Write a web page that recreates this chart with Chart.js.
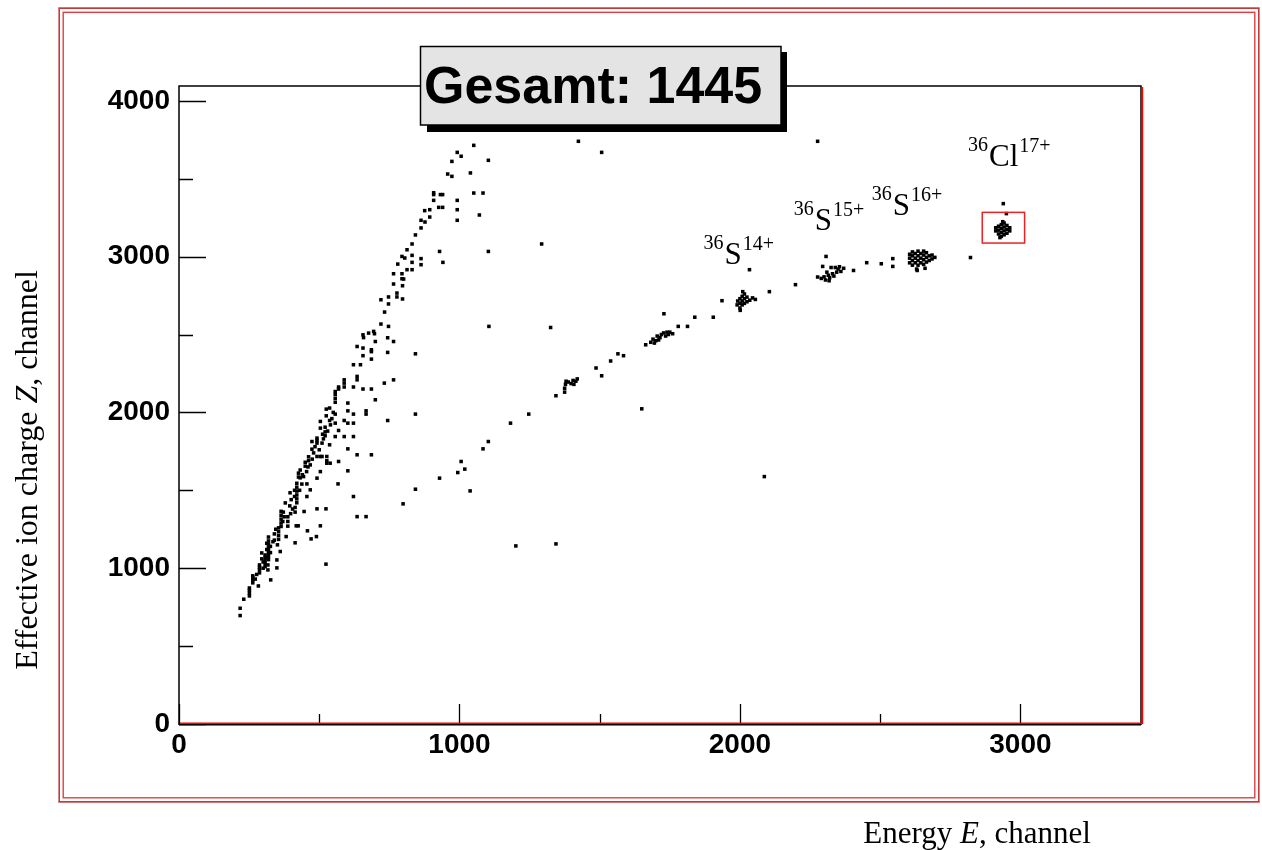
<!DOCTYPE html>
<html><head><meta charset="utf-8">
<script src="https://cdn.jsdelivr.net/npm/chart.js@4.4.1/dist/chart.umd.min.js"></script>
<style>html,body{margin:0;padding:0;background:#fff;overflow:hidden}canvas{display:block}</style>
</head><body>
<canvas id="c" width="1262" height="850"></canvas>
<script>
// ---- tick values ----
const xTicks = [0, 1000, 2000, 3000];
const xMinorTicks = [500, 1500, 2500];
const yTicks = [0, 1000, 2000, 3000, 4000];
const yMinorTicks = [500, 1500, 2500, 3500];
const xMax = 3430;
const yMax = 4095;
const totalCount = 1445;

// ---- events [E, Z] ----
const leftBranch = [
[218,696],[218,743],[231,801],[251,822],[251,840],[251,858],[251,873],[263,906],[263,925],[263,940],[263,951],[283,886],
[287,970],[287,990],[287,1005],[287,1021],[295,1098],[307,1010],[307,1030],[307,1050],[307,1068],[307,1085],[313,1070],
[313,1120],[313,1160],[319,1055],[319,1075],[319,1095],[319,1115],[319,1135],[319,1155],[319,1175],[319,1200],[317,989],
[317,1021],[327,925],[349,1002],[349,1053],[351,1150],[361,1107],[355,1185],[355,1210],[355,1235],[355,1259],[364,1268],
[364,1290],[364,1315],[364,1340],[364,1365],[382,1203],[388,1270],[388,1300],[388,1330],[379,1419],[396,1484],[414,1163],
[418,1272],[425,1272],[414,1360],[414,1390],[412,1460],[412,1500],[420,1420],[420,1445],[420,1470],[420,1495],[420,1520],
[420,1545],[426,1585],[426,1610],[432,1630],[432,1580],[444,1588],[446,1364],[450,1655],[450,1680],[458,1240],[456,1460],
[456,1541],[462,1690],[462,1715],[468,1503],[468,1663],[471,1188],[474,1764],[474,1813],[490,1203],[492,1381],[492,1578],
[492,1717],[492,1803],[492,1820],[492,1835],[504,1272],[504,1620],[504,1717],[504,1899],[504,1942],[510,1717],[510,1803],
[521,1850],[521,1875],[521,1905],[524,1026],[524,1381],[527,1674],[527,1690],[527,1717],[525,1978],[525,2021],[537,1792],
[537,1948],[537,2028],[539,1674],[557,1845],[557,1931],[557,1989],[557,2065],[557,2090],[557,2115],[557,2134],[567,1541],
[569,1685],[569,1884],[569,2150],[569,2163],[589,1845],[589,1948],[589,2163],[589,2188],[589,2209],[602,1625],[602,1766],
[602,1931],[602,2010],[602,2060],[622,1460],[622,1845],[622,1931],[622,1989],[622,2163],[622,2306],[635,1331],[635,1728],
[635,2209],[635,2231],[635,2423],[647,2306],[656,2150],[656,2364],[656,2413],[656,2498],[658,2480],[667,1331],[667,1989],
[667,2010],[676,2509],[686,1728],[686,2150],[686,2342],[686,2390],[686,2402],[694,2520],[697,2505],[700,2081],[700,2455],
[720,2567],[720,2723],[732,2188],[733,2644],[744,1948],[744,2385],[744,2479],[747,2552],[747,2696],[747,2741],[765,2209],
[765,2455],[765,2824],[765,2890],[777,2741],[777,2766],[780,2952],[795,2858],[795,2890],[795,3001],[797,2728],[797,2813],
[801,2856],[805,2991],[813,2916],[813,3044],[831,2916],[831,2963],[831,3008],[831,3081],[843,3139],[863,2948],[863,2987],
[863,3184],[863,3233],[876,3295],[877,3222],[894,3254],[894,3301],[908,3361],[908,3398],[908,3410],[926,3316],[940,3316],
[932,3398],[940,3398],[958,3530],[973,3515],[973,3611],[992,3669],[1006,3644],[1051,3714],
[300,1000],[300,1040],[326,1100],[326,1140],[340,1180],[340,1220],[370,1300],[375,1330],[395,1400],[400,1440],[405,1380],
[430,1500],[438,1540],[440,1600],[455,1620],[460,1650],[475,1700],[480,1740],[485,1780],[500,1760],[512,1860],[515,1830],
[530,1880],[540,1920],[545,1960],[550,2000],[272,930],[277,960],[295,1060],[335,1170],[345,1250],[372,1360],[398,1350]
];
const strayEvents = [
[843,1989],[843,2376],[941,2963],[929,3033],[992,3233],[992,3301],[992,3361],[1039,3537],[1051,3408],[1084,3408],
[1071,3267],[1103,3618],[1103,3033],[1105,2552],[1424,3740],[1507,3669],[1293,3081],[1325,2545],[2277,3740],
[1650,2023],[2087,1588],[1201,1143],[1344,1156]
];
const rightBranch = [
[799,1413],[843,1507],[929,1578],[994,1614],[1006,1685],[1019,1636],[1038,1496],[1084,1766],[1103,1813],[1182,1931],
[1247,1989],[1344,2107],[1487,2285],[1507,2235],[1539,2330],[1565,2376],[1585,2364],[1664,2434],[1729,2633],[1780,2552],
[1813,2552],[1839,2611],[1905,2611],[1936,2717],[2034,2916],[2105,2775],[2198,2820],[2277,2869],[2307,3001],[2405,2911],
[2452,2961],[2504,2954],[2545,2937],[2545,2987],[2632,2911],[2822,2994],[2939,3340],[2950,3276]
];
const cluster1400 = [[1375,2130],[1375,2155],[1378,2180],[1380,2200],[1398,2185],[1405,2205],[1415,2200],[1420,2215],[1408,2180],[1388,2195]];
const cluster1700 = [[1682,2450],[1690,2470],[1700,2460],[1705,2490],[1715,2480],[1720,2500],[1728,2510],[1735,2490],[1745,2500],[1750,2515],[1760,2505],[1695,2445],[1710,2465],[1740,2515]];
const clusterS14 = [[1990,2690],[1992,2715],[2000,2670],[2000,2700],[2000,2730],[2008,2690],[2008,2715],[2008,2745],[2016,2700],[2016,2730],[2016,2760],[2025,2710],[2025,2740],[2035,2720],[2045,2735],[2055,2725],[2010,2775],[2001,2655]];
const clusterS15 = [[2290,2860],[2300,2870],[2305,2850],[2315,2880],[2320,2865],[2330,2890],[2335,2875],[2345,2900],[2350,2920],[2360,2905],[2370,2925],[2310,2900],[2325,2930],[2340,2930],[2295,2937],[2318,2845],[2355,2935]];
const clusterS16 = [[2605,2960],[2605,2990],[2605,3015],[2615,2945],[2615,2975],[2615,3005],[2615,3030],[2625,2960],[2625,2990],[2625,3020],[2635,2945],[2635,2975],[2635,3005],[2635,3035],[2645,2960],[2645,2990],[2645,3020],[2655,2950],[2655,2980],[2655,3010],[2655,3035],[2665,2965],[2665,2995],[2665,3025],[2675,2975],[2675,3005],[2685,2985],[2685,3010],[2695,2995],[2630,2920],[2660,2925]];
const clusterCl = [[2912,3165],[2912,3185],[2922,3145],[2922,3170],[2922,3195],[2932,3130],[2932,3155],[2932,3180],[2932,3205],[2942,3140],[2942,3165],[2942,3190],[2942,3215],[2952,3150],[2952,3175],[2952,3200],[2962,3165],[2962,3185],[2927,3122],[2937,3224]];

// ---- ion annotations ----
const ionMass = ['36','36','36','36'];
const ionElement = ['S','S','S','Cl'];
const ionCharge = ['14+','15+','16+','17+'];
const ionAnchorE = [1870, 2192, 2470, 2813];
const ionAnchorZ = [2954, 3173, 3269, 3579];
const selectionBox = {eMin: 2864, eMax: 3015, zMin: 3087, zMax: 3284};

const toPts = a => a.map(p => ({x: p[0], y: p[1]}));
const mk = (label, arr) => ({label, data: toPts(arr), pointStyle: 'rect', pointRadius: 2.5, pointHoverRadius: 2.5,
  pointBorderWidth: 0, borderWidth: 0, backgroundColor: '#000', borderColor: '#000', showLine: false});

const decor = {
  id: 'decor',
  afterDatasetsDraw(chart) {
    const c = chart.ctx, a = chart.chartArea, xs = chart.scales.x, ys = chart.scales.y;
    c.save();
    c.strokeStyle = '#ee2222'; c.lineWidth = 1.5;
    const bx1 = xs.getPixelForValue(selectionBox.eMin), bx2 = xs.getPixelForValue(selectionBox.eMax);
    const by1 = ys.getPixelForValue(selectionBox.zMax), by2 = ys.getPixelForValue(selectionBox.zMin);
    c.strokeRect(bx1, by1, bx2 - bx1, by2 - by1);
    c.strokeStyle = '#000'; c.lineWidth = 1.3;
    c.beginPath();
    yTicks.forEach(v => { const p = Math.round(ys.getPixelForValue(v)) + 0.5; c.moveTo(a.left, p); c.lineTo(a.left + 27, p); });
    yMinorTicks.forEach(v => { const p = Math.round(ys.getPixelForValue(v)) + 0.5; c.moveTo(a.left, p); c.lineTo(a.left + 14, p); });
    xTicks.forEach(v => { const p = Math.round(xs.getPixelForValue(v)) + 0.5; c.moveTo(p, a.bottom); c.lineTo(p, a.bottom - 20); });
    xMinorTicks.forEach(v => { const p = Math.round(xs.getPixelForValue(v)) + 0.5; c.moveTo(p, a.bottom); c.lineTo(p, a.bottom - 10); });
    c.stroke();
    c.lineWidth = 1.5;
    c.beginPath();
    c.moveTo(a.left, a.bottom + 1); c.lineTo(a.left, a.top); c.lineTo(a.right, a.top); c.lineTo(a.right, a.bottom + 1);
    c.moveTo(a.left, a.bottom + 0.8); c.lineTo(a.right, a.bottom + 0.8);
    c.stroke();
    c.strokeStyle = '#ff0000'; c.lineWidth = 1.6;
    c.beginPath();
    c.moveTo(a.left + 1, a.bottom - 0.8); c.lineTo(a.right + 1.5, a.bottom - 0.8);
    c.moveTo(a.right + 1.4, a.top + 1); c.lineTo(a.right + 1.4, a.bottom);
    c.stroke();
    c.fillStyle = '#000'; c.textBaseline = 'alphabetic'; c.textAlign = 'left';
    for (let i = 0; i < ionElement.length; i++) {
      let x = xs.getPixelForValue(ionAnchorE[i]);
      const y = ys.getPixelForValue(ionAnchorZ[i]);
      c.font = '20px "Liberation Serif"';
      c.fillText(ionMass[i], x, y - 15); x += c.measureText(ionMass[i]).width + 1;
      c.font = '31px "Liberation Serif"';
      c.fillText(ionElement[i], x, y); x += c.measureText(ionElement[i]).width + 1;
      c.font = '20px "Liberation Serif"';
      c.fillText(ionCharge[i], x, y - 14);
    }
    c.restore();
  },
  afterDraw(chart) {
    const c = chart.ctx;
    c.save();
    c.fillStyle = '#f2cfcf';
    c.fillRect(58, 7, 1202, 2); c.fillRect(58, 801, 1202, 2);
    c.strokeStyle = '#c43a3a'; c.lineWidth = 1.6;
    c.strokeRect(59.2, 8.2, 1199.6, 793.6);
    c.strokeStyle = '#e04040'; c.lineWidth = 1.4;
    c.strokeRect(63.2, 12.3, 1191.6, 785.5);
    c.fillStyle = '#000';
    c.fillRect(427, 118, 360, 14); c.fillRect(781, 52, 6, 80);
    c.fillStyle = '#e4e4e4';
    c.fillRect(420, 46, 361, 79);
    c.strokeStyle = '#000'; c.lineWidth = 1.5;
    c.strokeRect(420.5, 46.5, 360.5, 78.5);
    c.fillStyle = '#000'; c.font = 'bold 52px "Liberation Sans"'; c.textAlign = 'left'; c.textBaseline = 'alphabetic';
    c.fillText('Gesamt: ' + totalCount, 424, 103);
    const drawSegs = (segs, x0, y0, size) => {
      let tw = 0; segs.forEach(s => { c.font = s[1] + size + 'px "Liberation Serif"'; tw += c.measureText(s[0]).width; });
      let x = x0 - tw / 2;
      c.textAlign = 'left';
      segs.forEach(s => { c.font = s[1] + size + 'px "Liberation Serif"'; c.fillText(s[0], x, y0); x += c.measureText(s[0]).width; });
    };
    drawSegs([['Energy ', ''], ['E', 'italic '], [', channel', '']], 977, 843, 31);
    c.translate(37, 470); c.rotate(-Math.PI / 2);
    drawSegs([['Effective ion charge ', ''], ['Z', 'italic '], [', channel', '']], 0, 0, 32);
    c.restore();
  }
};

const tickFont = { family: '"Liberation Sans"', weight: 'bold', size: 28 };
new Chart(document.getElementById('c').getContext('2d'), {
  type: 'scatter',
  data: { datasets: [
    mk('left branch', leftBranch), mk('strays', strayEvents), mk('right branch', rightBranch),
    mk('cluster 1400', cluster1400), mk('cluster 1700', cluster1700), mk('36S14+', clusterS14),
    mk('36S15+', clusterS15), mk('36S16+', clusterS16), mk('36Cl17+', clusterCl)
  ]},
  options: {
    responsive: false, animation: false, devicePixelRatio: 1,
    layout: { padding: { left: 0, right: 121, top: 86, bottom: 0 } },
    plugins: { legend: { display: false }, tooltip: { enabled: false }, title: { display: false } },
    scales: {
      x: {
        type: 'linear', min: 0, max: xMax,
        afterBuildTicks: s => { s.ticks = xTicks.map(v => ({ value: v })); },
        afterFit: s => { s.height = 126; },
        grid: { display: false, drawTicks: false }, border: { display: false },
        ticks: { padding: 4, color: '#000', autoSkip: false, maxRotation: 0, font: tickFont, callback: v => String(v) }
      },
      y: {
        type: 'linear', min: 0, max: yMax,
        afterBuildTicks: s => { s.ticks = yTicks.map(v => ({ value: v })); },
        afterFit: s => { s.width = 179; },
        grid: { display: false, drawTicks: false }, border: { display: false },
        ticks: { padding: 9, color: '#000', font: tickFont, callback: v => String(v) }
      }
    }
  },
  plugins: [decor]
});
</script>
</body></html>
